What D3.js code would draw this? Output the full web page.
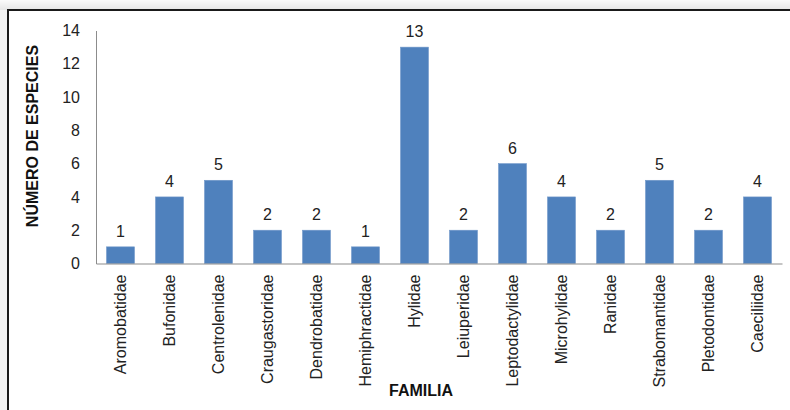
<!DOCTYPE html>
<html>
<head>
<meta charset="utf-8">
<script src="https://cdn.jsdelivr.net/npm/d3@7"></script>
<style>
  html, body { margin: 0; padding: 0; background: #f3f3f3; }
  svg { display: block; }
  text { font-family: "Liberation Sans", Arial, sans-serif; }
</style>
</head>
<body>
<svg id="chart" width="790" height="410"></svg>
<script>
// Amphibian families and number of species per family
const familias = ["Aromobatidae", "Bufonidae", "Centrolenidae", "Craugastoridae", "Dendrobatidae",
  "Hemiphractidae", "Hylidae", "Leiuperidae", "Leptodactylidae", "Microhylidae", "Ranidae",
  "Strabomantidae", "Pletodontidae", "Caeciliidae"];
const especies = [1, 4, 5, 2, 2, 1, 13, 2, 6, 4, 2, 5, 2, 4];
const yTicks = [0, 2, 4, 6, 8, 10, 12, 14];

const FONT = "'Liberation Sans', Arial, sans-serif";
const svg = d3.select("#chart");

// soft grey backdrop with a framed white panel
const bg = svg.append("defs").append("linearGradient")
  .attr("id", "shade").attr("x1", 0).attr("y1", 0).attr("x2", 0).attr("y2", 1);
bg.append("stop").attr("offset", "0").attr("stop-color", "#fafafa");
bg.append("stop").attr("offset", "1").attr("stop-color", "#e6e6e6");
svg.append("rect").attr("x", 0).attr("y", 0).attr("width", 790).attr("height", 10)
  .attr("fill", "url(#shade)");
svg.append("rect").attr("x", 8).attr("y", 10).attr("width", 800).attr("height", 420)
  .attr("fill", "#fff").attr("stroke", "#1a1a1a").attr("stroke-width", 2);

const m = { left: 96, right: 782, top: 30.5, bottom: 263.5 };

const x = d3.scaleBand().domain(familias).range([m.left, m.right]).paddingInner(0.43).paddingOuter(0.215);
const y = d3.scaleLinear().domain([0, 14]).range([m.bottom, m.top]);

// y axis
const yAxis = svg.append("g").attr("transform", `translate(${m.left},0)`)
  .call(d3.axisLeft(y).tickValues(yTicks).tickSize(0).tickPadding(16));
yAxis.attr("font-size", null).attr("font-family", null);
yAxis.select(".domain").attr("stroke", "#8c8c8c").attr("stroke-width", 1);
yAxis.selectAll("text").style("font-size", "16px").attr("fill", "#222").style("font-family", FONT);

// bars
svg.append("g").selectAll("rect").data(especies).join("rect")
  .attr("x", (d, i) => x(familias[i]))
  .attr("y", d => y(d))
  .attr("width", x.bandwidth())
  .attr("height", d => y(0) - y(d))
  .attr("fill", "#4f81bd")
  .attr("stroke", "#6f97c8").attr("stroke-width", 0.6);

// value labels
svg.append("g").selectAll("text").data(especies).join("text")
  .attr("x", (d, i) => x(familias[i]) + x.bandwidth() / 2)
  .attr("y", d => y(d) - 10)
  .attr("text-anchor", "middle").style("font-size", "16px").attr("fill", "#222")
  .text(d => d);

// x axis
const xAxis = svg.append("g").attr("transform", `translate(0,${m.bottom})`)
  .call(d3.axisBottom(x).tickSize(0).tickPadding(0).tickSizeOuter(0));
xAxis.attr("font-size", null).attr("font-family", null);
xAxis.select(".domain").attr("stroke", "#8c8c8c").attr("stroke-width", 1.2);
xAxis.selectAll("text")
  .style("font-size", "16px").attr("fill", "#222").style("font-family", FONT)
  .attr("transform", "rotate(-90)")
  .attr("text-anchor", "end")
  .attr("dy", "0.35em")
  .attr("x", -11).attr("y", 0);

// axis titles
svg.append("text").attr("transform", "translate(38,136) rotate(-90)")
  .attr("text-anchor", "middle").style("font-size", "16px").attr("font-weight", "bold").attr("fill", "#111")
  .text("NÚMERO DE ESPECIES");
svg.append("text").attr("x", 421).attr("y", 396)
  .attr("text-anchor", "middle").style("font-size", "16px").attr("font-weight", "bold").attr("fill", "#111")
  .text("FAMILIA");
</script>
</body>
</html>
